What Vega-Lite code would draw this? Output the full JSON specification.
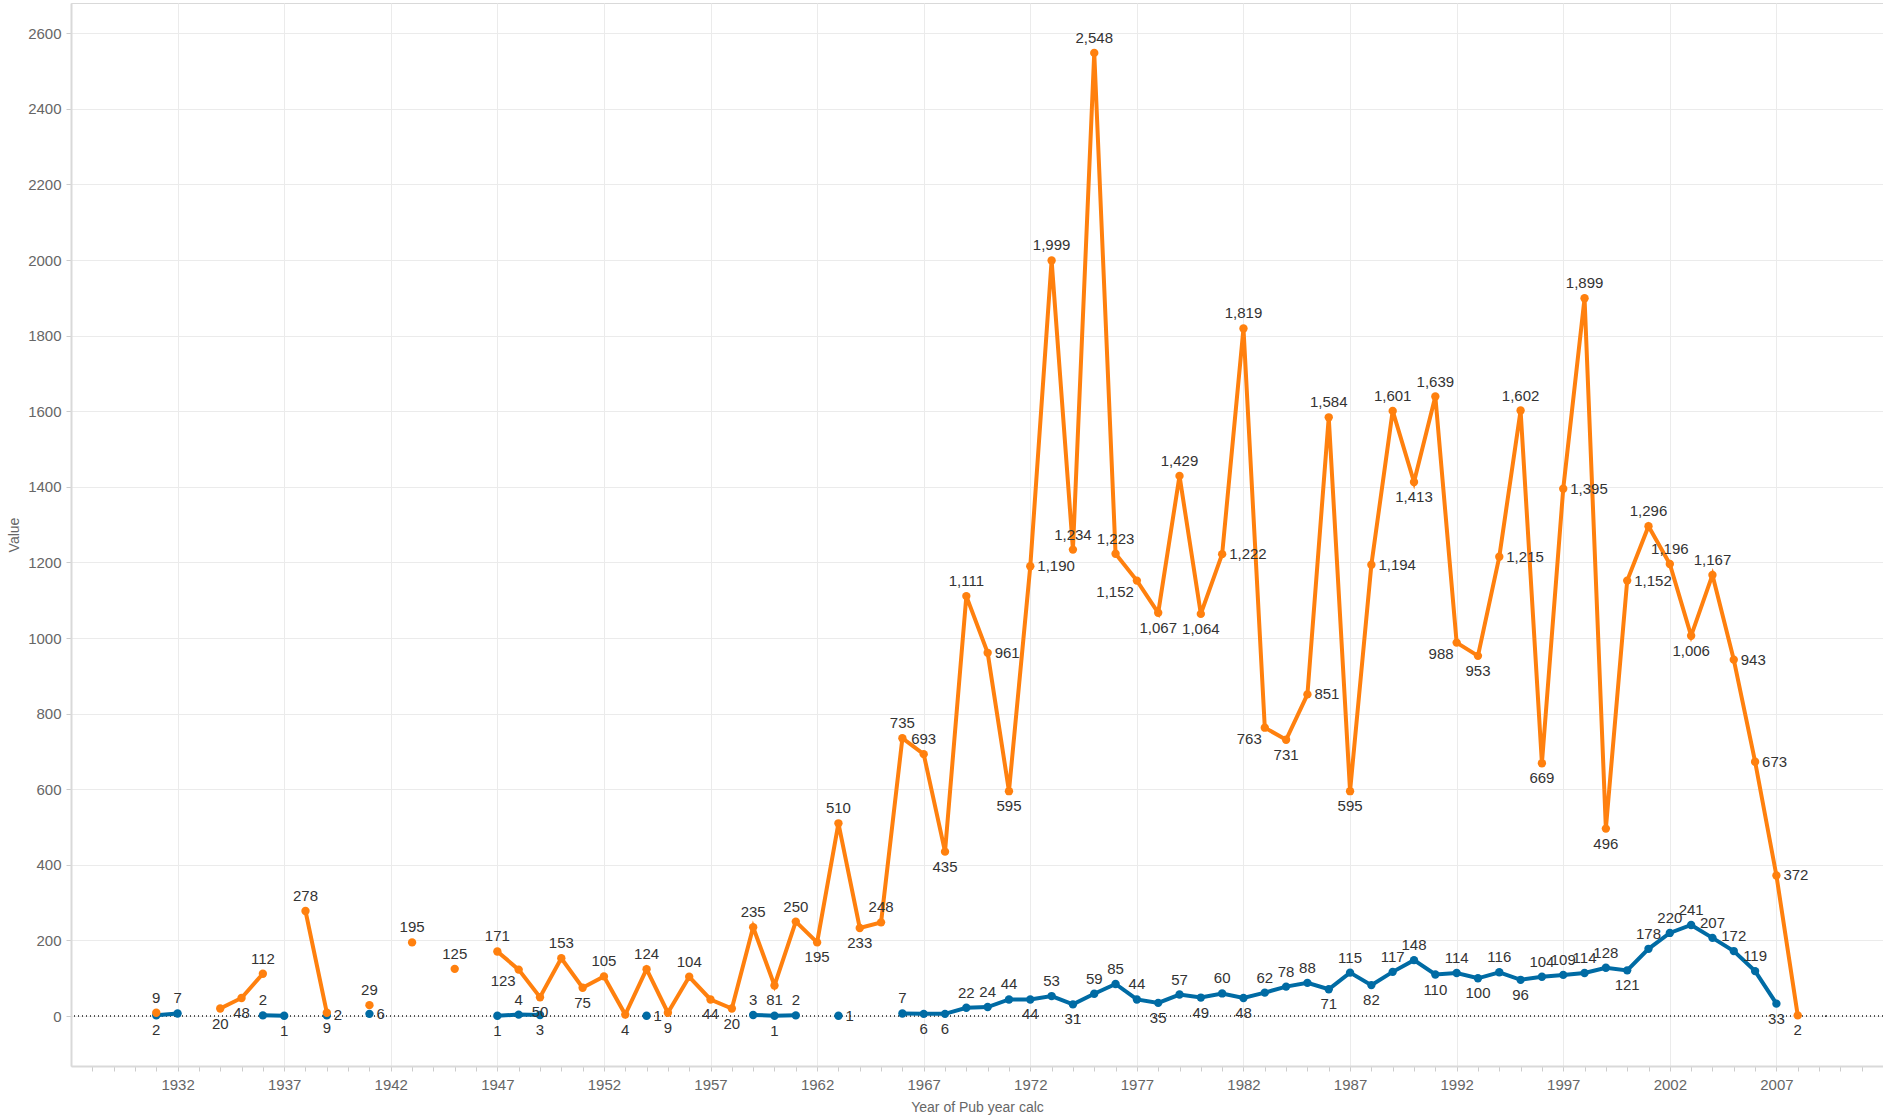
{
  "$schema": "https://vega.github.io/schema/vega-lite/v6.json",
  "width": 1812,
  "height": 1063,
  "autosize": "none",
  "padding": {"left": 71, "top": 3, "right": 0, "bottom": 51},
  "background": "white",
  "config": {
    "font": "Liberation Sans",
    "view": {"stroke": "#d9d9d9", "strokeWidth": 1}
  },
  "data": {
    "values": [
      {"year": 1931, "series": "A", "value": 9},
      {"year": 1932, "series": "A", "value": null},
      {"year": 1934, "series": "A", "value": 20},
      {"year": 1935, "series": "A", "value": 48},
      {"year": 1936, "series": "A", "value": 112},
      {"year": 1937, "series": "A", "value": null},
      {"year": 1938, "series": "A", "value": 278},
      {"year": 1939, "series": "A", "value": 9},
      {"year": 1940, "series": "A", "value": null},
      {"year": 1941, "series": "A", "value": 29},
      {"year": 1942, "series": "A", "value": null},
      {"year": 1943, "series": "A", "value": 195},
      {"year": 1944, "series": "A", "value": null},
      {"year": 1945, "series": "A", "value": 125},
      {"year": 1946, "series": "A", "value": null},
      {"year": 1947, "series": "A", "value": 171},
      {"year": 1948, "series": "A", "value": 123},
      {"year": 1949, "series": "A", "value": 50},
      {"year": 1950, "series": "A", "value": 153},
      {"year": 1951, "series": "A", "value": 75},
      {"year": 1952, "series": "A", "value": 105},
      {"year": 1953, "series": "A", "value": 4},
      {"year": 1954, "series": "A", "value": 124},
      {"year": 1955, "series": "A", "value": 9},
      {"year": 1956, "series": "A", "value": 104},
      {"year": 1957, "series": "A", "value": 44},
      {"year": 1958, "series": "A", "value": 20},
      {"year": 1959, "series": "A", "value": 235},
      {"year": 1960, "series": "A", "value": 81},
      {"year": 1961, "series": "A", "value": 250},
      {"year": 1962, "series": "A", "value": 195},
      {"year": 1963, "series": "A", "value": 510},
      {"year": 1964, "series": "A", "value": 233},
      {"year": 1965, "series": "A", "value": 248},
      {"year": 1966, "series": "A", "value": 735},
      {"year": 1967, "series": "A", "value": 693},
      {"year": 1968, "series": "A", "value": 435},
      {"year": 1969, "series": "A", "value": 1111},
      {"year": 1970, "series": "A", "value": 961},
      {"year": 1971, "series": "A", "value": 595},
      {"year": 1972, "series": "A", "value": 1190},
      {"year": 1973, "series": "A", "value": 1999},
      {"year": 1974, "series": "A", "value": 1234},
      {"year": 1975, "series": "A", "value": 2548},
      {"year": 1976, "series": "A", "value": 1223},
      {"year": 1977, "series": "A", "value": 1152},
      {"year": 1978, "series": "A", "value": 1067},
      {"year": 1979, "series": "A", "value": 1429},
      {"year": 1980, "series": "A", "value": 1064},
      {"year": 1981, "series": "A", "value": 1222},
      {"year": 1982, "series": "A", "value": 1819},
      {"year": 1983, "series": "A", "value": 763},
      {"year": 1984, "series": "A", "value": 731},
      {"year": 1985, "series": "A", "value": 851},
      {"year": 1986, "series": "A", "value": 1584},
      {"year": 1987, "series": "A", "value": 595},
      {"year": 1988, "series": "A", "value": 1194},
      {"year": 1989, "series": "A", "value": 1601},
      {"year": 1990, "series": "A", "value": 1413},
      {"year": 1991, "series": "A", "value": 1639},
      {"year": 1992, "series": "A", "value": 988},
      {"year": 1993, "series": "A", "value": 953},
      {"year": 1994, "series": "A", "value": 1215},
      {"year": 1995, "series": "A", "value": 1602},
      {"year": 1996, "series": "A", "value": 669},
      {"year": 1997, "series": "A", "value": 1395},
      {"year": 1998, "series": "A", "value": 1899},
      {"year": 1999, "series": "A", "value": 496},
      {"year": 2000, "series": "A", "value": 1152},
      {"year": 2001, "series": "A", "value": 1296},
      {"year": 2002, "series": "A", "value": 1196},
      {"year": 2003, "series": "A", "value": 1006},
      {"year": 2004, "series": "A", "value": 1167},
      {"year": 2005, "series": "A", "value": 943},
      {"year": 2006, "series": "A", "value": 673},
      {"year": 2007, "series": "A", "value": 372},
      {"year": 2008, "series": "A", "value": 2},
      {"year": 1931, "series": "B", "value": 2},
      {"year": 1932, "series": "B", "value": 7},
      {"year": 1933, "series": "B", "value": null},
      {"year": 1936, "series": "B", "value": 2},
      {"year": 1937, "series": "B", "value": 1},
      {"year": 1938, "series": "B", "value": null},
      {"year": 1939, "series": "B", "value": 2},
      {"year": 1940, "series": "B", "value": null},
      {"year": 1941, "series": "B", "value": 6},
      {"year": 1942, "series": "B", "value": null},
      {"year": 1947, "series": "B", "value": 1},
      {"year": 1948, "series": "B", "value": 4},
      {"year": 1949, "series": "B", "value": 3},
      {"year": 1950, "series": "B", "value": null},
      {"year": 1954, "series": "B", "value": 1},
      {"year": 1955, "series": "B", "value": null},
      {"year": 1959, "series": "B", "value": 3},
      {"year": 1960, "series": "B", "value": 1},
      {"year": 1961, "series": "B", "value": 2},
      {"year": 1962, "series": "B", "value": null},
      {"year": 1963, "series": "B", "value": 1},
      {"year": 1964, "series": "B", "value": null},
      {"year": 1966, "series": "B", "value": 7},
      {"year": 1967, "series": "B", "value": 6},
      {"year": 1968, "series": "B", "value": 6},
      {"year": 1969, "series": "B", "value": 22},
      {"year": 1970, "series": "B", "value": 24},
      {"year": 1971, "series": "B", "value": 44},
      {"year": 1972, "series": "B", "value": 44},
      {"year": 1973, "series": "B", "value": 53},
      {"year": 1974, "series": "B", "value": 31},
      {"year": 1975, "series": "B", "value": 59},
      {"year": 1976, "series": "B", "value": 85},
      {"year": 1977, "series": "B", "value": 44},
      {"year": 1978, "series": "B", "value": 35},
      {"year": 1979, "series": "B", "value": 57},
      {"year": 1980, "series": "B", "value": 49},
      {"year": 1981, "series": "B", "value": 60},
      {"year": 1982, "series": "B", "value": 48},
      {"year": 1983, "series": "B", "value": 62},
      {"year": 1984, "series": "B", "value": 78},
      {"year": 1985, "series": "B", "value": 88},
      {"year": 1986, "series": "B", "value": 71},
      {"year": 1987, "series": "B", "value": 115},
      {"year": 1988, "series": "B", "value": 82},
      {"year": 1989, "series": "B", "value": 117},
      {"year": 1990, "series": "B", "value": 148},
      {"year": 1991, "series": "B", "value": 110},
      {"year": 1992, "series": "B", "value": 114},
      {"year": 1993, "series": "B", "value": 100},
      {"year": 1994, "series": "B", "value": 116},
      {"year": 1995, "series": "B", "value": 96},
      {"year": 1996, "series": "B", "value": 104},
      {"year": 1997, "series": "B", "value": 109},
      {"year": 1998, "series": "B", "value": 114},
      {"year": 1999, "series": "B", "value": 128},
      {"year": 2000, "series": "B", "value": 121},
      {"year": 2001, "series": "B", "value": 178},
      {"year": 2002, "series": "B", "value": 220},
      {"year": 2003, "series": "B", "value": 241},
      {"year": 2004, "series": "B", "value": 207},
      {"year": 2005, "series": "B", "value": 172},
      {"year": 2006, "series": "B", "value": 119},
      {"year": 2007, "series": "B", "value": 33}
    ]
  },
  "transform": [
    {
      "window": [
        {"op": "lag", "field": "value", "param": 1, "as": "prev"},
        {"op": "lag", "field": "value", "param": 2, "as": "p2"},
        {"op": "lag", "field": "value", "param": 3, "as": "p3"},
        {"op": "lead", "field": "value", "param": 1, "as": "next"},
        {"op": "lead", "field": "value", "param": 2, "as": "n2"}
      ],
      "groupby": ["series"],
      "sort": [{"field": "year", "order": "ascending"}]
    }
  ],
  "encoding": {
    "x": {
      "field": "year",
      "type": "quantitative",
      "title": "Year of Pub year calc",
      "scale": {"domain": [1927, 2012], "nice": false, "zero": false},
      "axis": {
        "values": [1928,1929,1930,1931,1932,1933,1934,1935,1936,1937,1938,1939,1940,1941,1942,1943,1944,1945,1946,1947,1948,1949,1950,1951,1952,1953,1954,1955,1956,1957,1958,1959,1960,1961,1962,1963,1964,1965,1966,1967,1968,1969,1970,1971,1972,1973,1974,1975,1976,1977,1978,1979,1980,1981,1982,1983,1984,1985,1986,1987,1988,1989,1990,1991,1992,1993,1994,1995,1996,1997,1998,1999,2000,2001,2002,2003,2004,2005,2006,2007,2008,2009,2010,2011],
        "format": "d",
        "labelExpr": "datum.value % 5 === 2 ? datum.label : ''",
        "labelOverlap": false,
        "labelFontSize": 15,
        "labelColor": "#666666",
        "labelPadding": 6,
        "tickSize": 5,
        "tickColor": "#cccccc",
        "grid": true,
        "gridColor": "#ebebeb",
        "gridOpacity": {"condition": {"test": "datum.value % 5 === 2", "value": 1}, "value": 0},
        "domainColor": "#d9d9d9",
        "domainWidth": 2,
        "titleFontSize": 14,
        "titleFontWeight": "normal",
        "titleColor": "#666666",
        "titlePadding": 8
      }
    },
    "y": {
      "field": "value",
      "type": "quantitative",
      "title": "Value",
      "scale": {"domain": [-132, 2680], "nice": false, "zero": false},
      "axis": {
        "values": [0,200,400,600,800,1000,1200,1400,1600,1800,2000,2200,2400,2600],
        "format": "d",
        "labelFontSize": 15,
        "labelColor": "#666666",
        "labelPadding": 5,
        "tickSize": 5,
        "tickColor": "#cccccc",
        "grid": true,
        "gridColor": "#ebebeb",
        "domainColor": "#d9d9d9",
        "domainWidth": 2,
        "titleFontSize": 14,
        "titleFontWeight": "normal",
        "titleColor": "#666666",
        "titlePadding": 6
      }
    },
    "color": {
      "field": "series",
      "type": "nominal",
      "scale": {"domain": ["A", "B"], "range": ["#FF800E", "#006BA4"]},
      "legend": null
    }
  },
  "layer": [
    {
      "mark": {"type": "rule", "color": "#555555", "strokeDash": [1, 3], "strokeWidth": 1},
      "encoding": {"y": {"datum": 0}, "x": null, "color": null}
    },
    {
      "transform": [{"filter": "datum.series === 'B'"}],
      "mark": {"type": "line", "strokeWidth": 4, "invalid": "break-paths-show-domains"}
    },
    {
      "transform": [{"filter": "datum.series === 'B' && datum.value != null"}],
      "mark": {"type": "point", "filled": true, "opacity": 1, "size": 70}
    },
    {
      "transform": [{"filter": "datum.series === 'A'"}],
      "mark": {"type": "line", "strokeWidth": 4, "invalid": "break-paths-show-domains"}
    },
    {
      "transform": [{"filter": "datum.series === 'A' && datum.value != null"}],
      "mark": {"type": "point", "filled": true, "opacity": 1, "size": 70}
    },
    {
      "transform": [{"filter": "datum.value != null && ((datum.series === 'B' && ((datum.prev != null || datum.next != null) && (datum.prev == null || datum.value <= datum.prev) && (datum.next == null || datum.value <= datum.next))) || (datum.series === 'A' && ((((datum.prev != null || datum.next != null) && (datum.prev == null || datum.value <= datum.prev) && (datum.next == null || datum.value <= datum.next)) && !(datum.p2 != null && datum.p3 != null && datum.prev != null && datum.p2 >= 100 && ((datum.p3 < datum.p2 && datum.p2 < datum.prev) || (datum.p3 > datum.p2 && datum.p2 > datum.prev)) && abs(datum.p2 - datum.p3) > 110 && abs(datum.prev - datum.p2) > 110 && abs(datum.p2 - datum.value) < 100)) || ((datum.prev != null && datum.next != null && ((datum.prev < datum.value && datum.value < datum.next) || (datum.prev > datum.value && datum.value > datum.next))) && datum.value < 100))))"}],
      "mark": {"type": "text", "baseline": "top", "dy": 8, "fontSize": 15, "color": "#333333"},
      "encoding": {"text": {"field": "value", "type": "quantitative", "format": ",d"}, "color": null}
    },
    {
      "transform": [{"filter": "datum.value != null && ((datum.series === 'B' && datum.prev == null && datum.next == null) || (datum.series === 'A' && (datum.prev != null && datum.next != null && ((datum.prev < datum.value && datum.value < datum.next) || (datum.prev > datum.value && datum.value > datum.next))) && abs(datum.value - datum.prev) > 110 && abs(datum.next - datum.value) > 110 && datum.value >= 100))"}],
      "mark": {"type": "text", "align": "left", "baseline": "middle", "dx": 7, "fontSize": 15, "color": "#333333"},
      "encoding": {"text": {"field": "value", "type": "quantitative", "format": ",d"}, "color": null}
    },
    {
      "transform": [{"filter": "datum.value != null && datum.series === 'A' && datum.value >= 100 && datum.prev != null && datum.next != null && datum.prev > datum.value && datum.value > datum.next && datum.value - datum.next < 100 && (datum.n2 == null || datum.next <= datum.n2)"}],
      "mark": {"type": "text", "align": "right", "baseline": "top", "dx": -3, "dy": 4, "fontSize": 15, "color": "#333333"},
      "encoding": {"text": {"field": "value", "type": "quantitative", "format": ",d"}, "color": null}
    },
    {
      "transform": [{"filter": "datum.value != null && !((datum.series === 'B' && ((datum.prev != null || datum.next != null) && (datum.prev == null || datum.value <= datum.prev) && (datum.next == null || datum.value <= datum.next))) || (datum.series === 'A' && ((((datum.prev != null || datum.next != null) && (datum.prev == null || datum.value <= datum.prev) && (datum.next == null || datum.value <= datum.next)) && !(datum.p2 != null && datum.p3 != null && datum.prev != null && datum.p2 >= 100 && ((datum.p3 < datum.p2 && datum.p2 < datum.prev) || (datum.p3 > datum.p2 && datum.p2 > datum.prev)) && abs(datum.p2 - datum.p3) > 110 && abs(datum.prev - datum.p2) > 110 && abs(datum.p2 - datum.value) < 100)) || ((datum.prev != null && datum.next != null && ((datum.prev < datum.value && datum.value < datum.next) || (datum.prev > datum.value && datum.value > datum.next))) && datum.value < 100)))) && !((datum.series === 'B' && datum.prev == null && datum.next == null) || (datum.series === 'A' && (datum.prev != null && datum.next != null && ((datum.prev < datum.value && datum.value < datum.next) || (datum.prev > datum.value && datum.value > datum.next))) && abs(datum.value - datum.prev) > 110 && abs(datum.next - datum.value) > 110 && datum.value >= 100)) && !(datum.series === 'A' && datum.value >= 100 && datum.prev != null && datum.next != null && datum.prev > datum.value && datum.value > datum.next && datum.value - datum.next < 100 && (datum.n2 == null || datum.next <= datum.n2))"}],
      "mark": {"type": "text", "baseline": "alphabetic", "dy": -10, "fontSize": 15, "color": "#333333"},
      "encoding": {"text": {"field": "value", "type": "quantitative", "format": ",d"}, "color": null}
    }
  ]
}
